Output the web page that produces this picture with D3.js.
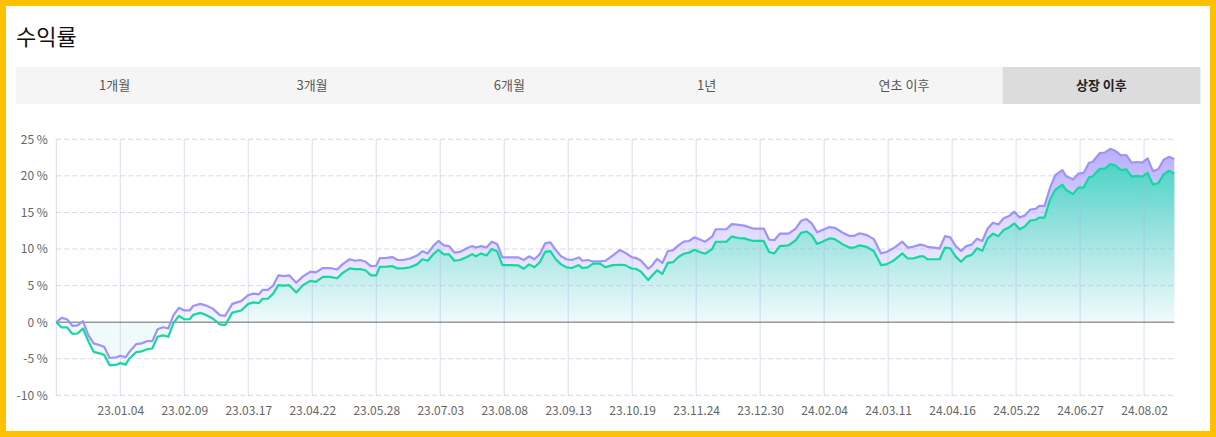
<!DOCTYPE html>
<meta charset="utf-8">
<script src="https://d3js.org/d3.v7.min.js"></script>
<style>
  body { margin: 0; background: #fff; }
  svg { display: block; font-family: "Noto Sans CJK KR", "Noto Sans", sans-serif; }
</style>
<div id="chart"></div>
<script>

// listing date and the days after it for each point
const listingDate = "2022-11-29";
const dayOffsets = [0,3,6,9,12,15,18,21,25,27,30,34,36,39,41,45,48,51,54,57,60,63,66,69,72,75,77,81,84,88,92,95,99,104,108,111,114,116,119,122,125,128,131,135,139,143,146,150,154,158,161,165,168,171,174,177,180,182,186,189,192,195,199,203,206,209,212,215,218,221,224,227,231,234,236,239,242,245,248,251,255,260,263,266,269,272,275,278,281,284,287,290,294,296,299,302,306,309,313,317,320,324,326,329,333,335,338,341,344,347,350,353,356,359,362,365,369,371,377,380,384,387,392,398,401,404,407,412,416,419,422,425,428,431,435,438,442,446,449,452,456,460,464,467,471,476,479,482,486,488,490,497,500,503,506,509,512,515,518,521,524,527,530,533,536,539,542,545,548,551,553,556,559,562,566,568,572,575,578,581,583,587,590,593,596,599,602,605,608,611,614,617,620,623,626,629];

// purple line (%)
const indexReturn = [0,0.59,0.4,-0.5,-0.45,0.14,-1.78,-2.9,-3.2,-3.4,
  -4.9,-4.8,-4.6,-4.8,-4.1,-3.0,-2.9,-2.6,-2.6,-0.96,
  -0.7,-0.87,1.0,1.96,1.6,1.6,2.2,2.5,2.3,1.85,
  0.96,0.87,2.5,2.87,3.7,3.9,3.8,4.4,4.4,5.0,
  6.4,6.3,6.4,5.4,6.3,6.9,6.8,7.4,7.4,7.2,
  7.9,8.6,8.4,8.5,8.25,7.66,7.7,8.75,8.8,8.9,
  8.5,8.5,8.7,9.1,9.7,9.4,10.4,11.1,10.5,10.4,
  9.5,9.6,10.1,10.4,10.2,10.4,10.2,11.0,10.7,8.85,
  8.85,8.85,8.5,9.0,8.6,9.3,10.76,10.9,9.85,9.0,
  8.6,8.5,8.85,8.4,8.5,8.3,8.3,8.4,9.1,9.85,
  9.5,8.85,8.8,8.4,7.3,7.7,8.65,8.1,9.7,9.85,
  10.5,11.0,11.1,11.6,11.3,11.0,11.7,12.7,12.7,13.4,
  13.3,13.2,12.8,12.8,11.3,11.2,12.1,12.1,12.8,13.86,
  14.1,13.5,12.3,12.6,13.0,12.9,12.3,11.8,11.8,12.15,
  11.9,11.35,9.4,9.6,10.1,11.0,10.2,10.3,10.6,10.5,
  10.3,10.1,11.76,11.6,10.4,9.75,10.4,10.6,11.4,11.1,
  12.8,13.6,13.35,14.2,14.5,15.1,14.3,14.6,15.4,15.5,
  15.9,15.9,18.3,20.1,20.8,20.0,19.5,20.3,20.4,21.8,
  21.9,23.1,23.2,23.7,23.4,22.8,22.85,21.8,21.9,21.8,
  22.4,20.65,20.9,22.2,22.6,22.3];

// green line (%)
const fundReturn = [0,-0.73,-0.7,-1.6,-1.55,-0.87,-2.6,-4.06,-4.3,-4.5,
  -5.9,-5.8,-5.6,-5.8,-5.0,-4.1,-4.0,-3.7,-3.6,-2.0,
  -1.8,-2.0,-0.1,0.86,0.4,0.4,1.0,1.27,1.0,0.5,
  -0.3,-0.4,1.3,1.6,2.5,2.7,2.6,3.2,3.2,3.9,
  5.06,5.0,5.06,4.06,5.1,5.65,5.5,6.2,6.2,6.0,
  6.7,7.35,7.25,7.25,7.1,6.4,6.4,7.57,7.6,7.66,
  7.35,7.35,7.5,7.9,8.6,8.4,9.26,9.9,9.26,9.26,
  8.4,8.5,8.9,9.3,9.0,9.4,9.1,10.0,9.7,7.8,
  7.8,7.75,7.3,7.9,7.5,8.2,9.6,9.7,8.6,7.9,
  7.5,7.4,7.8,7.4,7.5,8.0,8.0,7.5,7.8,7.85,
  7.8,7.3,7.3,6.9,5.75,6.3,7.1,6.6,8.1,8.2,
  8.9,9.35,9.5,9.9,9.6,9.35,10.0,10.99,10.99,11.7,
  11.5,11.45,11.1,11.1,9.6,9.4,10.4,10.5,11.2,12.2,
  12.4,11.9,10.7,10.99,11.45,11.35,10.7,10.2,10.2,10.5,
  10.3,9.7,7.8,7.9,8.4,9.4,8.7,8.7,9.0,9.0,
  8.6,8.6,10.2,10.1,8.96,8.25,8.96,9.2,10.1,9.75,
  11.45,12.1,11.76,12.6,12.95,13.5,12.7,13.1,13.9,14.0,
  14.3,14.3,16.7,18.1,18.8,18.1,17.5,18.4,18.4,19.8,
  19.9,20.97,21.0,21.6,21.4,20.8,20.9,19.9,20.0,19.9,
  20.4,18.8,19.0,20.2,20.7,20.3];

const yTicks = [-10, -5, 0, 5, 10, 15, 20, 25];
const xTickLabels = ["23.01.04","23.02.09","23.03.17","23.04.22","23.05.28","23.07.03","23.08.08",
  "23.09.13","23.10.19","23.11.24","23.12.30","24.02.04","24.03.11","24.04.16","24.05.22","24.06.27","24.08.02"];
const tabLabels = ["1개월", "3개월", "6개월", "1년", "연초 이후", "상장 이후"];
const activeTab = 5;

const W = 1216, H = 437;
const plot = {left: 56.3, right: 1174.3, top: 139.3, bottom: 395.3};

const start = d3.timeParse("%Y-%m-%d")(listingDate);
const parseTick = d3.timeParse("%y.%m.%d");
const data = dayOffsets.map((d, i) => ({
  date: d3.timeDay.offset(start, d),
  idx: indexReturn[i],
  fund: fundReturn[i]
}));

const svg = d3.select("#chart").append("svg")
    .attr("width", W)
    .attr("height", H);

svg.append("rect").attr("width", W).attr("height", H).attr("fill", "#fff");
// yellow frame
svg.append("rect")
    .attr("x", 3).attr("y", 3)
    .attr("width", W - 6).attr("height", H - 6)
    .attr("fill", "none")
    .attr("stroke", "#ffc000")
    .attr("stroke-width", 6);

// title
svg.append("text")
    .attr("x", 16).attr("y", 45)
    .attr("font-size", 22)
    .attr("fill", "#111")
    .text("수익률");

// period tabs
const tabX = 16, tabW = (1200 - 16) / tabLabels.length;
const tabs = svg.append("g").selectAll("g")
  .data(tabLabels)
  .join("g")
    .attr("transform", (d, i) => `translate(${tabX + i * tabW}, 67)`);
tabs.append("rect")
    .attr("width", tabW + 0.5)
    .attr("height", 37)
    .attr("fill", (d, i) => i === activeTab ? "#dcdcdc" : "#f5f5f5");
tabs.append("text")
    .attr("x", tabW / 2)
    .attr("y", 18.5)
    .attr("dy", "0.35em")
    .attr("text-anchor", "middle")
    .attr("font-size", 13)
    .attr("font-weight", (d, i) => i === activeTab ? 700 : 400)
    .attr("fill", (d, i) => i === activeTab ? "#222" : "#555")
    .text(d => d);

// scales
const x = d3.scaleTime()
    .domain([start, d3.timeDay.offset(start, 629)])
    .range([plot.left, plot.right]);
const y = d3.scaleLinear()
    .domain([-10, 25])
    .range([plot.bottom, plot.top]);

const tickDates = xTickLabels.map(parseTick);

// gradients
const defs = svg.append("defs");
const gFund = defs.append("linearGradient")
    .attr("id", "gFund")
    .attr("gradientUnits", "userSpaceOnUse")
    .attr("x1", 0).attr("x2", 0)
    .attr("y1", y(25)).attr("y2", y(0));
gFund.append("stop").attr("offset", 0).attr("stop-color", "#2fcfbd");
gFund.append("stop").attr("offset", 0.5).attr("stop-color", "#98e2df");
gFund.append("stop").attr("offset", 1).attr("stop-color", "#f1fafb");

const gIdx = defs.append("linearGradient")
    .attr("id", "gIdx")
    .attr("gradientUnits", "userSpaceOnUse")
    .attr("x1", 0).attr("x2", 0)
    .attr("y1", y(25)).attr("y2", y(0));
gIdx.append("stop").attr("offset", 0).attr("stop-color", "#b1a8fb");
gIdx.append("stop").attr("offset", 0.45).attr("stop-color", "#dedafd");
gIdx.append("stop").attr("offset", 1).attr("stop-color", "#f5f4ff");

// areas
const areaIdx = d3.area()
    .x(d => x(d.date)).y0(y(0)).y1(d => y(d.idx));
const areaFund = d3.area()
    .x(d => x(d.date)).y0(y(0)).y1(d => y(d.fund));

svg.append("path").datum(data)
    .attr("d", areaIdx)
    .attr("fill", "url(#gIdx)");
svg.append("path").datum(data)
    .attr("d", areaFund)
    .attr("fill", "url(#gFund)");

// grid
const grid = svg.append("g");
grid.selectAll("line.h")
  .data(yTicks.filter(d => d !== 0))
  .join("line")
    .attr("class", "h")
    .attr("x1", plot.left).attr("x2", plot.right)
    .attr("y1", d => y(d)).attr("y2", d => y(d))
    .attr("stroke", "rgba(175,188,222,0.55)")
    .attr("stroke-dasharray", "5,3");
grid.selectAll("line.v")
  .data([x.domain()[0]].concat(tickDates))
  .join("line")
    .attr("class", "v")
    .attr("x1", d => x(d)).attr("x2", d => x(d))
    .attr("y1", plot.top).attr("y2", plot.bottom + 1)
    .attr("stroke", "rgba(170,180,220,0.45)");

// zero line
svg.append("line")
    .attr("x1", plot.left).attr("x2", plot.right)
    .attr("y1", y(0)).attr("y2", y(0))
    .attr("stroke", "#666")
    .attr("stroke-width", 1);

// lines
const lineIdx = d3.line().x(d => x(d.date)).y(d => y(d.idx));
const lineFund = d3.line().x(d => x(d.date)).y(d => y(d.fund));

svg.append("path").datum(data)
    .attr("d", lineIdx)
    .attr("fill", "none")
    .attr("stroke", "#9e92fb")
    .attr("stroke-width", 2.2)
    .attr("stroke-linejoin", "round");
svg.append("path").datum(data)
    .attr("d", lineFund)
    .attr("fill", "none")
    .attr("stroke", "#14d8a0")
    .attr("stroke-width", 2.2)
    .attr("stroke-linejoin", "round");

// axes
const yAxis = svg.append("g")
    .attr("transform", `translate(${plot.left}, 0)`)
    .call(d3.axisLeft(y).tickValues(yTicks).tickSize(0).tickPadding(8.5)
      .tickFormat(d => d + " %"));
const xAxis = svg.append("g")
    .attr("transform", `translate(0, ${plot.bottom})`)
    .call(d3.axisBottom(x).tickValues(tickDates).tickSize(0).tickPadding(11)
      .tickFormat((d, i) => xTickLabels[i]));

[yAxis, xAxis].forEach(a => {
  a.select(".domain").remove();
  a.selectAll("text")
    .attr("font-family", "\"Noto Sans CJK KR\", \"Noto Sans\", sans-serif")
    .attr("font-size", 12)
    .attr("fill", "#666");
});

</script>
